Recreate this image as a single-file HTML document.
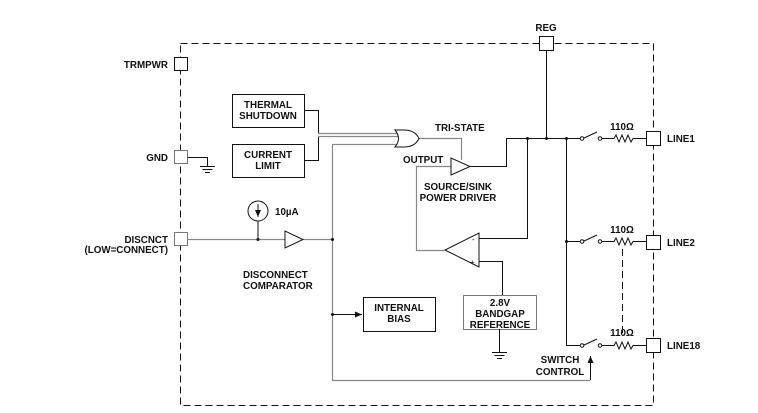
<!DOCTYPE html>
<html><head><style>
html,body{margin:0;padding:0;background:#fff;}
svg{display:block;}
text{font-family:"Liberation Sans",sans-serif;font-weight:bold;font-size:9.8px;fill:#111;}
</style></head><body>
<svg width="758" height="413" viewBox="0 0 758 413" xmlns="http://www.w3.org/2000/svg">
<defs>
<marker id="ar" markerWidth="8" markerHeight="8" refX="7" refY="4" orient="auto" markerUnits="userSpaceOnUse"><path d="M0,1 L7,4 L0,7 Z" fill="#111"/></marker>
</defs>
<rect x="180.5" y="43.5" width="473" height="362" fill="none" stroke="#111" stroke-width="1" stroke-dasharray="7,4"/>
<g fill="#fff" stroke="#111" stroke-width="1">
<rect x="174.5" y="57.5" width="13" height="13"/>
<rect x="174.5" y="150.5" width="13" height="13" stroke="#777"/>
<rect x="174.5" y="232.5" width="13" height="13" stroke="#777"/>
<rect x="539.5" y="36.5" width="14" height="14"/>
<rect x="646.5" y="131.5" width="14" height="14"/>
<rect x="646.5" y="235.5" width="14" height="14"/>
<rect x="646.5" y="338.5" width="14" height="14"/>
<rect x="232.5" y="94.5" width="72" height="33"/>
<rect x="232.5" y="144.5" width="72" height="33"/>
<rect x="363.5" y="297.5" width="72" height="34"/>
<rect x="463.5" y="295.5" width="73" height="34" stroke="#777"/>
</g>
<g fill="none" stroke="#111" stroke-width="1">
<path d="M187.5 157.5 H207.5 V166"/>
<path d="M200 166.5 H215 M202.5 169.5 H212.5 M205 172.5 H210"/>
<path d="M546.5 50 V138"/>
<path d="M304 110.5 H318.5 V133 M304 160.5 H318.5 V137"/>
<path d="M506.5 138.5 H582"/>
<path d="M527.5 138 V238.5 H479"/>
<path d="M566.5 138 V345"/>
<path d="M566 241.5 H582 M566 345.5 H582"/>
<path d="M470 166.5 H506.5 V138"/>
<path d="M479 233 V267 L445 250 Z" fill="#fff"/>
<path d="M479 261.5 H502.5 V295"/>
<path d="M499.5 329 V352"/>
<path d="M492 352.5 H507 M494.5 355.5 H504.5 M497 358.5 H502"/>
<path d="M332 314.5 H362" marker-end="url(#ar)"/>
<path d="M590.5 380 V356" marker-end="url(#ar)"/>
<g id="sw">
<path d="M583 138.5 L597 132 M602 138.5 H614 L616 135 L619 142 L622 135 L625 142 L628 135 L631 142 L633 138.5 H646"/>
<circle cx="582" cy="138.5" r="1.8" fill="#fff"/><circle cx="600" cy="138.5" r="1.8" fill="#fff"/>
</g>
<use href="#sw" y="103"/>
<use href="#sw" y="207"/>
<path d="M622.5 249 V337" stroke-dasharray="7,4"/>
<circle cx="258" cy="211" r="10"/>
<path d="M258 204 V217" marker-end="url(#ar)"/>
<path d="M258 221 V239"/>
</g>
<g fill="none" stroke="#888" stroke-width="1.2">
<path d="M318 133.5 H398 M318 136.5 H398 M332.5 380 V144.5 H398"/>
<path d="M332 380.5 H590"/>
<path d="M187 239.5 H285 M303 239.5 H332"/>
<path d="M418 138.5 H461.5 V160"/>
<path d="M451 166.5 H416.5 V250.5 H445"/>
</g>
<path d="M395 130 Q402 138.5 395 147 H404 Q415 147 419 138.5 Q415 130 404 130 Z" fill="#fff" stroke="#111"/>
<path d="M285 231 V248 L303 239.5 Z" fill="#fff" stroke="#111"/>
<path d="M451 158 V175 L470 166.5 Z" fill="#fff" stroke="#111"/>
<g fill="#111">
<circle cx="527.5" cy="138.5" r="1.5"/><circle cx="546.5" cy="138.5" r="1.5"/><circle cx="566.5" cy="138.5" r="1.5"/>
<circle cx="566.5" cy="241.5" r="1.5"/><circle cx="258" cy="239.5" r="1.5"/><circle cx="332.5" cy="239.5" r="1.5"/><circle cx="332.5" cy="314.5" r="1.5"/>
</g>
<text x="168" y="68" text-anchor="end">TRMPWR</text>
<text x="168" y="161" text-anchor="end">GND</text>
<text x="168" y="243" text-anchor="end">DISCNCT</text>
<text x="168" y="253" text-anchor="end">(LOW=CONNECT)</text>
<text x="546" y="31" text-anchor="middle">REG</text>
<text x="268" y="108" text-anchor="middle">THERMAL</text>
<text x="268" y="119" text-anchor="middle">SHUTDOWN</text>
<text x="268" y="158" text-anchor="middle">CURRENT</text>
<text x="268" y="169" text-anchor="middle">LIMIT</text>
<text x="435" y="131">TRI-STATE</text>
<text x="403" y="163">OUTPUT</text>
<text x="458" y="190" text-anchor="middle">SOURCE/SINK</text>
<text x="458" y="201" text-anchor="middle">POWER  DRIVER</text>
<text x="275" y="215">10µA</text>
<text x="243" y="278">DISCONNECT</text>
<text x="243" y="289">COMPARATOR</text>
<text x="399" y="311" text-anchor="middle">INTERNAL</text>
<text x="399" y="322" text-anchor="middle">BIAS</text>
<text x="500" y="306" text-anchor="middle">2.8V</text>
<text x="500" y="317" text-anchor="middle">BANDGAP</text>
<text x="500" y="328" text-anchor="middle">REFERENCE</text>
<text x="560" y="363" text-anchor="middle">SWITCH</text>
<text x="560" y="375" text-anchor="middle">CONTROL</text>
<text x="622" y="130" text-anchor="middle">110Ω</text>
<text x="622" y="233" text-anchor="middle">110Ω</text>
<text x="622" y="336" text-anchor="middle">110Ω</text>
<text x="667" y="142">LINE1</text>
<text x="667" y="246">LINE2</text>
<text x="667" y="349">LINE18</text>
<text x="472" y="242" style="font-size:8px;font-weight:normal">-</text>
<text x="470" y="265" style="font-size:8px;font-weight:normal">+</text>
</svg>
</body></html>
